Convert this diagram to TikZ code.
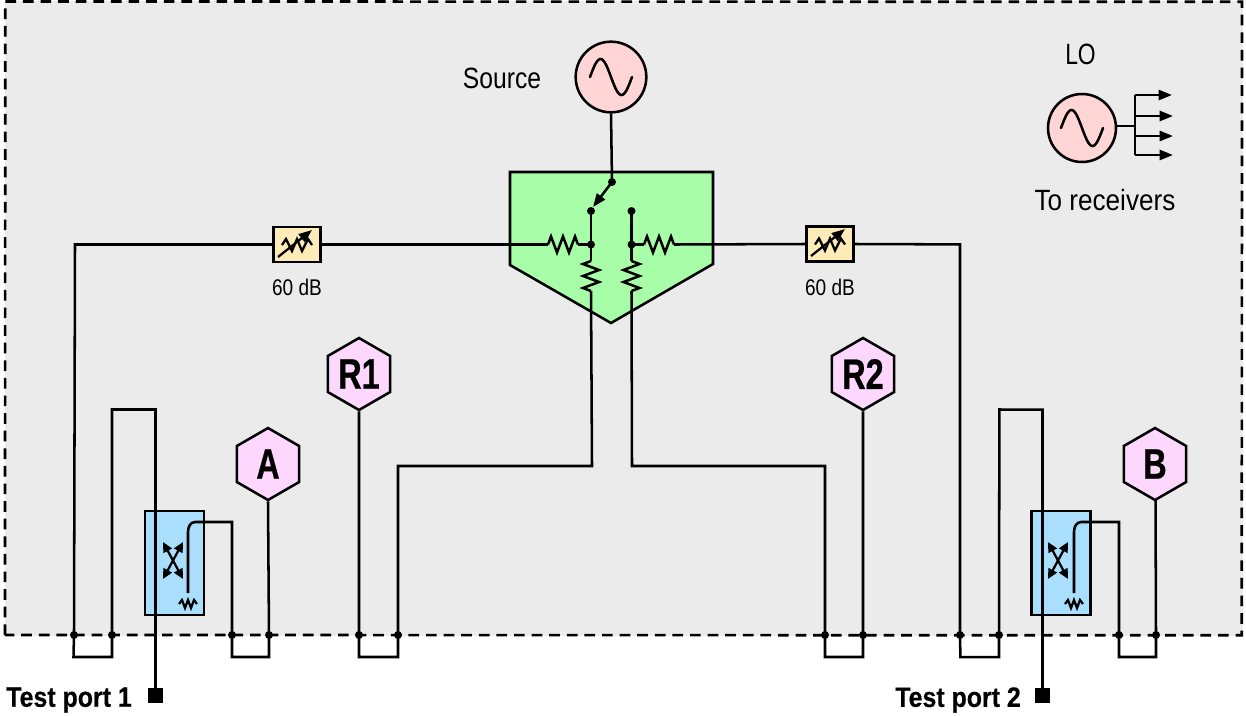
\documentclass[tikz,border=0pt]{standalone}
\usepackage{fontspec}
\setmainfont{Liberation Sans}
\newfontfamily\lblfont[FakeStretch=0.84]{Liberation Sans}
\newfontfamily\widefont[FakeStretch=0.89]{Liberation Sans}
\newfontfamily\narrowfont[FakeStretch=0.78]{Liberation Sans}
\newfontfamily\hexfont[FakeStretch=0.76,FakeBold=0.6]{Liberation Sans Bold}
\newfontfamily\portfont[FakeStretch=0.89,FakeBold=0.4]{Liberation Sans Bold}
\usetikzlibrary{shapes.geometric,arrows.meta,calc}
\definecolor{panelgrey}{HTML}{EBEBEB}
\definecolor{osc}{HTML}{FFD5D5}
\definecolor{hexpink}{HTML}{FDD7FD}
\definecolor{splitgreen}{HTML}{A8FDA8}
\definecolor{coupler}{HTML}{A9DEFD}
\definecolor{atten}{HTML}{FDEBB8}
\tikzset{
  x=0.75pt,y=-0.75pt,
  wire/.style={draw=black,line width=1.9pt,line join=miter},
  thinwire/.style={draw=black,line width=1.7pt},
  dot/.style={circle,fill=black,draw=none,minimum size=6pt,inner sep=0pt},
  hex/.style={regular polygon,regular polygon sides=6,shape border rotate=30,minimum size=54pt,inner sep=0pt,draw=black,line width=1.9pt,fill=hexpink,font=\fontsize{32}{32}\hexfont},
  oscillator/.style={circle,draw=black,line width=1.9pt,fill=osc,minimum size=53pt,inner sep=0pt},
  attbox/.style={rectangle,draw=black,line width=1.9pt,fill=atten,minimum width=35.5pt,minimum height=26.5pt,inner sep=0pt},
  cplbox/.style={rectangle,draw=black,line width=1.9pt,fill=coupler,minimum width=44.5pt,minimum height=78pt,inner sep=0pt},
  portsq/.style={rectangle,fill=black,minimum size=11.5pt,inner sep=0pt},
  lbl/.style={font=\fontsize{22}{22}\lblfont,inner sep=0pt},
  small/.style={font=\fontsize{17}{17}\lblfont,inner sep=0pt},
  portlbl/.style={font=\fontsize{21}{21}\portfont,inner sep=0pt,anchor=west},
  tip/.style={-{Triangle[length=10pt,width=7.5pt]}},
  tips/.style={{Triangle[length=7.5pt,width=7pt]}-{Triangle[length=7.5pt,width=7pt]}},
  resistor/.pic={\draw[wire] (-15,0)--(-12,-8)--(-6,8)--(0,-8)--(6,8)--(12,-8)--(15,0);},
  attres/.pic={\draw[thinwire] (-15,0)--(-11,-6)--(-5,6)--(0,-6)--(5,6)--(11,-6)--(15,0);},
  minires/.pic={\draw[thinwire] (-9,0)--(-6,-4)--(-3,4)--(0,-4)--(3,4)--(6,-4)--(9,0);},
  sinewave/.pic={\draw[wire,line cap=round] plot[domain=-21:21,samples=41,smooth] (\x,{18*sin(\x*180/21)});}
}
\begin{document}
\begin{tikzpicture}
\useasboundingbox (0,0) rectangle (1246,715);
\draw[panelgrey,fill=panelgrey] (5,1) rectangle (1242,635);
\draw[black,line width=2pt,dash pattern=on 8pt off 5.2pt] (5,635) -- (5.25,1.5) -- (1242,1.75) -- (1241.75,635.25) -- cycle;

% splitter body
\path[wire,fill=splitgreen] (510,172) -- (713,172) -- (713,264) -- (611,323) -- (510,265) -- cycle;

% main nodes
\node[oscillator] (src) at (611,77) {};
\node[oscillator,minimum size=51pt] (lo) at (1082,128) {};
\node[attbox] (attL) at (297,244.5) {};
\node[attbox] (attR) at (830,244) {};
\node[cplbox] (cplL) at (174.5,563) {};
\node[cplbox] (cplR) at (1061,563) {};
\node[hex] (R1) at (359,374) {R1};
\node[hex] (R2) at (863,374) {R2};
\node[hex] (A) at (268,464) {A};
\node[hex] (B) at (1155,464) {B};
\node[portsq] (p1) at (155.5,695.5) {};
\node[portsq] (p2) at (1042.5,695.5) {};

% labels
\node[lbl] (tsrc) at (502,78) {Source};
\node[lbl,font=\fontsize{22}{22}\narrowfont] (tlo) at (1080.5,54) {LO};
\node[lbl,font=\fontsize{22}{22}\widefont] (trcv) at (1105,200) {To receivers};
\node[small] (tdbL) at (297,287) {60 dB};
\node[small] (tdbR) at (830,287) {60 dB};
\node[portlbl] (tp1) at (6,700) {Test port 1};
\node[portlbl] (tp2) at (895,700) {Test port 2};

% sine symbols
\pic at (src.center) {sinewave};
\pic at (lo.center) {sinewave};

% splitter inner nodes
\node[dot] (sw) at (612,182) {};
\node[dot] (thL) at (591,211) {};
\node[dot] (thR) at (631.5,211) {};
\node[dot] (jL) at (591,244.5) {};
\node[dot] (jR) at (631.5,244.5) {};
\coordinate (rLw) at (548,244.5);
\coordinate (rLe) at (578,244.5);
\coordinate (rRw) at (644,244.5);
\coordinate (rRe) at (674,244.5);
\coordinate (rDLt) at (591,261);
\coordinate (rDLb) at (591,291);
\coordinate (rDRt) at (631.5,261);
\coordinate (rDRb) at (631.5,291);
\pic at (563,244.5) {resistor};
\pic at (659,244.5) {resistor};
\pic[rotate=90] at (591,276) {resistor};
\pic[rotate=-90] at (631.5,276) {resistor};

\draw[wire] (src.south) -- (sw.center);
\draw[wire,tip] (sw.center) -- ($(thL)+(2,-4)$);
\draw[wire] (thL.center) -- (jL.center) -- (rDLt);
\draw[wire] (thR.center) -- (jR.center) -- (rDRt);
\draw[wire] (rLe) -- (jL.center);
\draw[wire] (jR.center) -- (rRw);

% bus and loop corners
\coordinate (lb1) at (74,635);
\coordinate (lb2) at (112,635);
\coordinate (lb3) at (232,635);
\coordinate (lb4) at (269,635);
\coordinate (lb5) at (359,635);
\coordinate (lb6) at (398,635);
\coordinate (rb6) at (825,635);
\coordinate (rb5) at (863,635);
\coordinate (rb1) at (960,635);
\coordinate (rb2) at (999,635);
\coordinate (rb3) at (1119,635);
\coordinate (rb4) at (1156,635);

% left port path
\draw[wire] (rLw) -- (attL.east);
\draw[wire] (attL.west) -- (75,244.5) -- (lb1) -- (73.5,657) -- (112,657) -- (lb2) -- (112,409.5) -- (155.5,409.5) -- (p1.center);
% right port path
\draw[wire] (rRe) -- (attR.west);
\draw[wire] (attR.east) -- (960,244.4) -- (rb1) -- (960.4,657) -- (999,657.2) -- (rb2) -- (999.4,409.5) -- (1042.5,409.7) -- (p2.center);

% coupled arms
\draw[wire] (188,593) -- (188,532) to[out=90,in=180] (195,522) -- (232,522) -- (lb3) -- (232,657) -- (269,657) -- (lb4) -- (A.south);
\draw[wire] (1074,593) -- (1074,532) to[out=90,in=180] (1081,522) -- (1119,522) -- (rb3) -- (1119,657) -- (1156,657) -- (rb4) -- (1155.5,500);
\pic at (188,604) {minires};
\pic at (1074,604) {minires};
\draw[thinwire,tips] (163,542) -- (183,579);
\draw[thinwire,tips] (183,542) -- (163,579);
\draw[thinwire,tips] (1048,542) -- (1068,579);
\draw[thinwire,tips] (1068,542) -- (1048,579);

% reference paths
\draw[wire] (R1.south) -- (lb5) -- (359,657) -- (398,657) -- (lb6) -- (398,466) -- (592,466) -- (rDLb);
\draw[wire] (R2.south) -- (rb5) -- (863,657) -- (825,657) -- (rb6) -- (825,466) -- (632,466) -- (rDRb);

% attenuator symbols
\pic at (297,245) {attres};
\pic at (830,244.5) {attres};
\draw[thinwire,tip] (278,257) -- (312,230);
\draw[thinwire,tip] (811,256) -- (845,229);

% LO fan-out
\coordinate (bus) at (1135,126);
\coordinate (f1) at (1135,95);
\coordinate (f2) at (1135,116);
\coordinate (f3) at (1135,136);
\coordinate (f4) at (1135,155);
\coordinate (e1) at (1172,95);
\coordinate (e2) at (1173,116);
\coordinate (e3) at (1173,136);
\coordinate (e4) at (1173,155);
\draw[wire] (lo.center |- bus) ++(33,0) -- (bus);
\draw[wire] (f1) -- (f4);
\draw[wire,tip] (f1) -- (e1);
\draw[wire,tip] (f2) -- (e2);
\draw[wire,tip] (f3) -- (e3);
\draw[wire,tip] (f4) -- (e4);

% junction dots
\foreach \c/\n in {lb1/a,lb2/b,lb3/c,lb4/d,lb5/e,lb6/f,rb6/g,rb5/h,rb1/i,rb2/j,rb3/k,rb4/l}
  \node[dot] (d\n) at (\c) {};
\end{tikzpicture}
\end{document}
